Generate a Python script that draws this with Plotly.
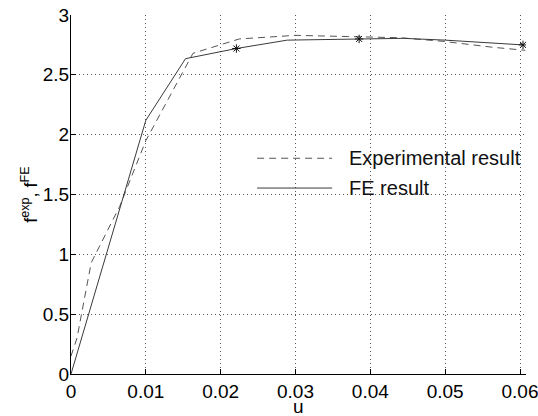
import plotly.graph_objects as go

# FE result (solid line)
u_fe = [0.0, 0.0100, 0.0153, 0.0221, 0.0289, 0.0385, 0.0444, 0.0500, 0.0604]
f_fe = [0.0, 2.12, 2.635, 2.72, 2.79, 2.80, 2.805, 2.79, 2.75]

# Experimental result (dashed line)
u_exp = [0.0, 0.0003, 0.0008, 0.0027, 0.0065, 0.0100, 0.0163, 0.0225, 0.0300, 0.0369, 0.0440, 0.0497, 0.0564, 0.0607]
f_exp = [0.15, 0.20, 0.30, 0.93, 1.40, 1.95, 2.68, 2.80, 2.83, 2.82, 2.81, 2.78, 2.73, 2.705]

# Star markers on FE curve
u_star = [0.0221, 0.0385, 0.0604]
f_star = [2.72, 2.80, 2.75]

x_ticks = [0, 0.01, 0.02, 0.03, 0.04, 0.05, 0.06]
x_labels = ["0", "0.01", "0.02", "0.03", "0.04", "0.05", "0.06"]
y_ticks = [0, 0.5, 1, 1.5, 2, 2.5, 3]
y_labels = ["0", "0.5", "1", "1.5", "2", "2.5", "3"]

legend_names = ["Experimental result", "FE result"]
x_title = "u"
y_title = "f<sup>exp</sup>, f<sup>FE</sup>"

FONT = "Liberation Sans, Arial, Helvetica, sans-serif"
LINE_COL = "#3a3a3a"
DASH_COL = "#555555"

fig = go.Figure()
fig.add_trace(go.Scatter(x=u_exp, y=f_exp, mode="lines",
                         line=dict(color=DASH_COL, width=1, dash="7px,5px"),
                         name=legend_names[0], showlegend=False))
fig.add_trace(go.Scatter(x=u_fe, y=f_fe, mode="lines",
                         line=dict(color=LINE_COL, width=1),
                         name=legend_names[1], showlegend=False))
fig.add_trace(go.Scatter(x=u_star, y=f_star, mode="markers",
                         marker=dict(symbol="asterisk-open", size=7, color="#111111",
                                     line=dict(color="#111111", width=1)),
                         showlegend=False))

# manual legend (long line samples, as in the reference)
leg_rows = [(0.601, DASH_COL, "7px,5px"), (0.518, LINE_COL, "solid")]
for (yy, col, dash), name in zip(leg_rows, legend_names):
    fig.add_shape(type="line", xref="paper", yref="paper",
                  x0=0.409, x1=0.574, y0=yy, y1=yy,
                  line=dict(color=col, width=1, dash=dash))
    fig.add_annotation(xref="paper", yref="paper", x=0.607, y=yy,
                       text=name, showarrow=False, xanchor="left", yanchor="middle",
                       font=dict(family=FONT, size=20, color="#111111"))

# x-axis title placed low, as in the reference
fig.add_annotation(xref="paper", yref="paper", x=0.5, y=0, yshift=-20,
                   text=x_title, showarrow=False, xanchor="center", yanchor="top",
                   font=dict(family=FONT, size=19, color="#000000"))

axis_common = dict(
    showline=True, linecolor="#000000", linewidth=1,
    ticks="inside", ticklen=5, tickcolor="#000000",
    showgrid=True, gridcolor="#555555", gridwidth=1, griddash="1px,3px",
    zeroline=False, mirror=False, automargin=False,
    tickfont=dict(family=FONT, size=19, color="#000000"),
    ticklabeloverflow="allow",
)

fig.update_xaxes(range=[0, 0.0608], tickvals=x_ticks, ticktext=x_labels,
                 ticklabelstandoff=0,
                 **axis_common)
fig.update_yaxes(range=[0, 3], tickvals=y_ticks, ticktext=y_labels,
                 ticklabelstandoff=-3,
                 title=dict(text=y_title,
                            font=dict(family=FONT, size=18, color="#000000"),
                            standoff=0),
                 **axis_common)

fig.update_layout(
    width=538, height=416,
    margin=dict(l=71, r=12, t=15, b=42, autoexpand=False),
    plot_bgcolor="#ffffff", paper_bgcolor="#ffffff",
    font=dict(family=FONT, size=19, color="#000000"),
)

fig.write_html("out.html")
